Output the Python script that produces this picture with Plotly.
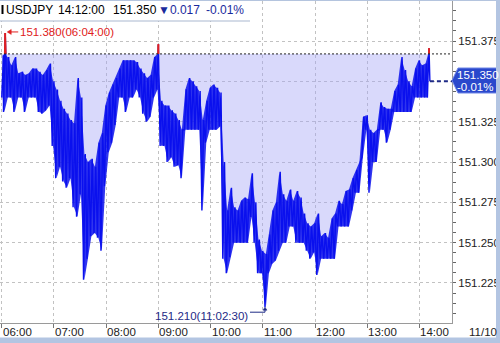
import plotly.graph_objects as go

# ---------------- data ----------------
symbol = "USDJPY"
last_time = "14:12:00"
last_price = 151.350
change = -0.017
change_pct = -0.01
prev_close = 151.367
date_label = "11/10"

bin_times = ["06:01", "06:03", "06:07", "06:11", "06:15", "06:19", "06:23", "06:27", "06:31", "06:35",
             "06:39", "06:43", "06:47", "06:51", "06:55", "06:59", "07:03", "07:07", "07:11", "07:15",
             "07:19", "07:23", "07:27", "07:31", "07:35", "07:39", "07:43", "07:47", "07:51", "07:55",
             "07:59", "08:03", "08:07", "08:11", "08:15", "08:19", "08:23", "08:27", "08:31", "08:35",
             "08:39", "08:43", "08:47", "08:51", "08:55", "08:59", "09:03", "09:07", "09:11", "09:15",
             "09:19", "09:23", "09:27", "09:31", "09:35", "09:39", "09:43", "09:47", "09:51", "09:55",
             "09:59", "10:03", "10:07", "10:11", "10:15", "10:19", "10:23", "10:27", "10:31", "10:35",
             "10:39", "10:43", "10:47", "10:51", "10:55", "10:59", "11:03:30", "11:07", "11:11", "11:15",
             "11:19", "11:23", "11:27", "11:31", "11:35", "11:39", "11:43", "11:47", "11:51", "11:55",
             "11:59", "12:03", "12:07", "12:11", "12:15", "12:19", "12:23", "12:27", "12:31", "12:35",
             "12:39", "12:43", "12:47", "12:51", "12:55", "12:59", "13:03", "13:07", "13:11", "13:15",
             "13:19", "13:23", "13:27", "13:31", "13:35", "13:39", "13:43", "13:47", "13:51", "13:55",
             "13:59", "14:03", "14:07", "14:10"]
bin_lows = [151.340, 151.331, 151.340, 151.340, 151.331, 151.340, 151.340, 151.331, 151.340, 151.340,
            151.340, 151.331, 151.330, 151.332, 151.335, 151.310, 151.290, 151.297, 151.288, 151.284,
            151.290, 151.272, 151.266, 151.280, 151.227, 151.240, 151.254, 151.256, 151.253, 151.245,
            151.285, 151.306, 151.312, 151.323, 151.340, 151.340, 151.331, 151.340, 151.340, 151.345,
            151.340, 151.330, 151.325, 151.328, 151.340, 151.345, 151.310, 151.310, 151.300, 151.303,
            151.297, 151.298, 151.290, 151.320, 151.320, 151.320, 151.320, 151.320, 151.270, 151.312,
            151.320, 151.320, 151.320, 151.322, 151.240, 151.231, 151.241, 151.250, 151.250, 151.250,
            151.250, 151.250, 151.266, 151.250, 151.231, 151.231, 151.210, 151.231, 151.237, 151.239,
            151.245, 151.250, 151.250, 151.260, 151.260, 151.250, 151.250, 151.250, 151.245, 151.240,
            151.244, 151.230, 151.240, 151.240, 151.240, 151.240, 151.240, 151.260, 151.260, 151.260,
            151.260, 151.270, 151.281, 151.281, 151.303, 151.320, 151.281, 151.300, 151.300, 151.320,
            151.320, 151.312, 151.320, 151.331, 151.331, 151.331, 151.331, 151.331, 151.331, 151.340,
            151.340, 151.340, 151.340, 151.340]
bin_highs = [151.366, 151.380, 151.365, 151.360, 151.365, 151.355, 151.356, 151.354, 151.355, 151.358,
             151.358, 151.356, 151.354, 151.357, 151.361, 151.350, 151.345, 151.338, 151.333, 151.330,
             151.326, 151.324, 151.352, 151.340, 151.305, 151.300, 151.302, 151.297, 151.312, 151.318,
             151.335, 151.343, 151.348, 151.352, 151.358, 151.363, 151.363, 151.363, 151.363, 151.362,
             151.358, 151.355, 151.352, 151.354, 151.365, 151.373, 151.338, 151.335, 151.335, 151.332,
             151.330, 151.326, 151.320, 151.345, 151.352, 151.350, 151.347, 151.344, 151.326, 151.338,
             151.346, 151.348, 151.346, 151.343, 151.300, 151.270, 151.284, 151.272, 151.270, 151.276,
             151.278, 151.277, 151.293, 151.275, 151.252, 151.245, 151.243, 151.255, 151.270, 151.275,
             151.294, 151.280, 151.276, 151.283, 151.276, 151.282, 151.278, 151.268, 151.262, 151.260,
             151.262, 151.268, 151.254, 151.256, 151.253, 151.265, 151.268, 151.276, 151.274, 151.282,
             151.283, 151.290, 151.295, 151.300, 151.328, 151.329, 151.320, 151.318, 151.320, 151.337,
             151.334, 151.333, 151.333, 151.344, 151.348, 151.365, 151.357, 151.350, 151.347, 151.358,
             151.363, 151.360, 151.361, 151.3705]
close_time = "14:12"
close_price = 151.350

max_price, max_time = 151.380, "06:04:00"
min_price, min_time = 151.210, "11:02:30"

x_tick_labels = ["06:00", "07:00", "08:00", "09:00", "10:00", "11:00", "12:00", "13:00", "14:00"]
y_tick_values = [151.225, 151.250, 151.275, 151.300, 151.325, 151.350, 151.375]


# ---------------- helpers ----------------
def mins(s):
    p = [int(v) for v in s.split(":")]
    while len(p) < 3:
        p.append(0)
    return p[0] * 60 + p[1] + p[2] / 60.0 - 360


W, H = 500, 343
PL, PR, PT, PB = 0, 452, 1, 323  # plot area in pixels


def xp(px):
    return (px - PL) / (PR - PL)


def yp(py):
    return (PB - py) / (PB - PT)


X_RANGE = [-2.0, 517.4]
Y_RANGE = [151.2002, 151.3998]

# line series: each bin is drawn as a low -> high stroke
xs, ys = [], []
for t, lo, hi in zip(bin_times, bin_lows, bin_highs):
    m = mins(t)
    xs += [m - 1, m + 1]
    ys += [lo, hi]
xs.append(mins(close_time))
ys.append(close_price)
bin_x = [mins(t) for t in bin_times]

# parts of the line above the previous close are red
rx, ry = [], []
for i in range(len(xs) - 1):
    x0, y0, x1, y1 = xs[i], ys[i], xs[i + 1], ys[i + 1]
    if y0 <= prev_close and y1 <= prev_close:
        continue
    if y0 > prev_close and y1 > prev_close:
        rx += [x0, x1, None]
        ry += [y0, y1, None]
    else:
        f = (prev_close - y0) / (y1 - y0)
        xc = x0 + f * (x1 - x0)
        if y0 > prev_close:
            rx += [x0, xc, None]
            ry += [y0, prev_close, None]
        else:
            rx += [xc, x1, None]
            ry += [prev_close, y1, None]

FONT = "Liberation Sans, Arial, sans-serif"
BLUE = "#0a10ee"
NAVY = "#1e2a86"
RED = "#e02020"

fig = go.Figure()
# lavender area between previous close and price
fig.add_trace(go.Scatter(x=xs, y=[prev_close] * len(xs), mode="lines",
                         line=dict(width=0, color="rgba(0,0,0,0)"), hoverinfo="skip"))
fig.add_trace(go.Scatter(x=xs, y=ys, mode="lines", fill="tonexty",
                         fillcolor="rgba(165,165,245,0.42)",
                         line=dict(width=0, color="rgba(0,0,0,0)"), hoverinfo="skip"))
# dense trading range of each bin
fig.add_trace(go.Scatter(x=bin_x, y=[min(v, prev_close) for v in bin_lows], mode="lines",
                         line=dict(width=0, color="rgba(0,0,0,0)"), hoverinfo="skip"))
fig.add_trace(go.Scatter(x=bin_x, y=[min(v, prev_close) for v in bin_highs], mode="lines",
                         fill="tonexty", fillcolor="rgba(12,18,236,0.85)",
                         line=dict(width=0, color="rgba(0,0,0,0)"), hoverinfo="skip"))
# price line
fig.add_trace(go.Scatter(x=xs, y=ys, mode="lines", line=dict(color=BLUE, width=1.4),
                         hoverinfo="skip"))
fig.add_trace(go.Scatter(x=rx, y=ry, mode="lines", line=dict(color=RED, width=1.7),
                         hoverinfo="skip"))

hour_vals = [mins(s) for s in x_tick_labels]
y_text = ["" if abs(v - last_price) < 1e-9 else f"{v:.3f}" for v in y_tick_values]

fig.update_layout(
    width=W, height=H,
    margin=dict(l=PL, r=W - PR, t=PT, b=H - PB, pad=0),
    paper_bgcolor="white", plot_bgcolor="white",
    showlegend=False,
    font=dict(family=FONT, size=11.5, color="#222"),
    xaxis=dict(range=X_RANGE, tickmode="array", tickvals=hour_vals, showticklabels=False,
               showgrid=True, gridcolor="#c2c2c2", griddash="dot", gridwidth=1,
               ticks="outside", ticklen=4, tickcolor="#777", showline=True,
               linecolor="#9a9a9a", linewidth=1, zeroline=False, fixedrange=True),
    yaxis=dict(range=Y_RANGE, side="right", tickmode="array", tickvals=y_tick_values,
               ticktext=y_text, showgrid=True, gridcolor="#c2c2c2", griddash="dot",
               ticks="outside", ticklen=3, tickcolor="#666", showline=True,
               linecolor="#9a9a9a", linewidth=1, zeroline=False,
               tickfont=dict(family=FONT, size=11.5, color="#222"),
               minor=dict(ticks="outside", ticklen=3, tickcolor="#666", tickmode="linear",
                          tick0=y_tick_values[0], dtick=0.00625, showgrid=False),
               fixedrange=True),
)

shapes = []
# previous close line
shapes.append(dict(type="line", xref="paper", yref="y", x0=0, x1=1, y0=prev_close, y1=prev_close,
                   line=dict(color="#222", width=1, dash="2px,2px"), layer="above"))
# current price line
shapes.append(dict(type="line", xref="x", yref="y", x0=mins(close_time), x1=X_RANGE[1],
                   y0=last_price, y1=last_price, line=dict(color=NAVY, width=2, dash="4px,3px"),
                   layer="above"))
# header box
shapes.append(dict(type="rect", xref="paper", yref="paper", x0=xp(0), x1=xp(250), y0=yp(21),
                   y1=yp(-1), fillcolor="white", line=dict(width=0), layer="above"))
shapes.append(dict(type="line", xref="paper", yref="paper", x0=xp(0), x1=xp(250), y0=yp(21),
                   y1=yp(21), line=dict(color="#a9b7cf", width=1), layer="above"))
shapes.append(dict(type="rect", xref="paper", yref="paper", x0=xp(1.5), x1=xp(3.5), y0=yp(14),
                   y1=yp(5), fillcolor="black", line=dict(width=0), layer="above"))
# max arrow
tmax = mins(max_time)
shapes.append(dict(type="path", xref="x", yref="y", xsizemode="pixel", ysizemode="pixel",
                   xanchor=tmax, yanchor=max_price, path="M 3,1 L 13,1",
                   line=dict(color=RED, width=1), layer="above"))
shapes.append(dict(type="path", xref="x", yref="y", xsizemode="pixel", ysizemode="pixel",
                   xanchor=tmax, yanchor=max_price, path="M 2,1 L 6,3.5 L 6,-1.5 Z",
                   fillcolor=RED, line=dict(color=RED, width=0.5), layer="above"))
# min arrow
tmin = mins(min_time)
shapes.append(dict(type="path", xref="x", yref="y", xsizemode="pixel", ysizemode="pixel",
                   xanchor=tmin, yanchor=min_price, path="M -15,-5 L 0,-5 L 0,-2",
                   line=dict(color=NAVY, width=1), layer="above"))
shapes.append(dict(type="path", xref="x", yref="y", xsizemode="pixel", ysizemode="pixel",
                   xanchor=tmin, yanchor=min_price, path="M -2,-3 L 2,-3 L 0,0 Z",
                   fillcolor=NAVY, line=dict(color=NAVY, width=0.5), layer="above"))
# price badge
badge = (f"M {xp(452)},{yp(80.5)} L {xp(458)},{yp(68)} L {xp(500)},{yp(68)} "
         f"L {xp(500)},{yp(93)} L {xp(458)},{yp(93)} Z")
shapes.append(dict(type="path", xref="paper", yref="paper", path=badge, fillcolor="#2a48cc",
                   line=dict(color="#6f86e6", width=1), layer="above"))
# window frame
shapes.append(dict(type="line", xref="paper", yref="paper", x0=xp(0), x1=xp(500), y0=yp(0.5),
                   y1=yp(0.5), line=dict(color="#b4c4de", width=1), layer="above"))
shapes.append(dict(type="rect", xref="paper", yref="paper", x0=xp(496), x1=xp(501), y0=yp(344),
                   y1=yp(-1), fillcolor="#b3c5e2", line=dict(width=0), layer="above"))
shapes.append(dict(type="rect", xref="paper", yref="paper", x0=xp(-1), x1=xp(501), y0=yp(344),
                   y1=yp(337.5), fillcolor="#b3c5e2", line=dict(width=0), layer="above"))
fig.update_layout(shapes=shapes)

ann = []
# header
hdr_y = yp(9.5)
for txt, px, col in [(symbol, 3.5, "black"), (last_time, 56, "black"),
                     (f"{last_price:.3f}", 111, "black"),
                     (f"▼{abs(change):.3f}", 156, "#1a2a9c"),
                     (f"{change_pct:+.2f}%".replace("+", ""), 204, "#1a2a9c")]:
    ann.append(dict(x=xp(px), y=hdr_y, xref="paper", yref="paper", text=txt, showarrow=False,
                    xanchor="left", yanchor="middle", font=dict(family=FONT, size=12, color=col)))
# x tick labels
for lab, v in zip(x_tick_labels, hour_vals):
    ann.append(dict(x=v, y=yp(331.5), xref="x", yref="paper", text=lab, showarrow=False,
                    xanchor="left", yanchor="middle", xshift=-1,
                    font=dict(family=FONT, size=11.5, color="#222")))
ann.append(dict(x=xp(467), y=yp(331.5), xref="paper", yref="paper", text=date_label,
                showarrow=False, xanchor="left", yanchor="middle",
                font=dict(family=FONT, size=11.5, color="#222")))
# max / min labels
ann.append(dict(x=tmax, y=max_price, xref="x", yref="y", text=f"{max_price:.3f}({max_time})",
                showarrow=False, xanchor="left", yanchor="middle", xshift=13, yshift=1,
                font=dict(family=FONT, size=11.5, color=RED)))
ann.append(dict(x=tmin, y=min_price, xref="x", yref="y", text=f"{min_price:.3f}({min_time})",
                showarrow=False, xanchor="right", yanchor="middle", xshift=-15, yshift=-9,
                font=dict(family=FONT, size=11.5, color=NAVY)))
# badge texts
ann.append(dict(x=xp(455), y=yp(74.5), xref="paper", yref="paper", text=f"{last_price:.3f}",
                showarrow=False, xanchor="left", yanchor="middle",
                font=dict(family=FONT, size=11.5, color="white")))
ann.append(dict(x=xp(455), y=yp(87), xref="paper", yref="paper",
                text=f"{change_pct:+.2f}%".replace("+", ""), showarrow=False, xanchor="left",
                yanchor="middle", font=dict(family=FONT, size=11.5, color="white")))
fig.update_layout(annotations=ann)

fig.write_html("out.html")
